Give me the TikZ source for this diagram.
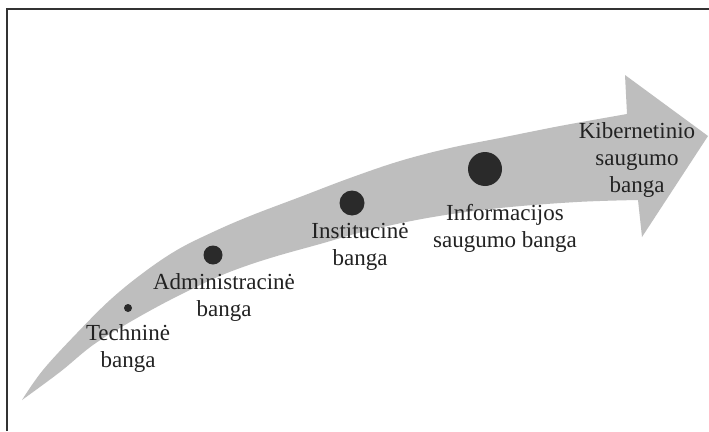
\documentclass[tikz,border=0pt]{standalone}
\usepackage{fontspec}
\setmainfont{Liberation Serif}
\definecolor{bandgray}{HTML}{BEBEBE}
\definecolor{dotgray}{HTML}{2A2A2A}
\definecolor{txtgray}{HTML}{222222}
\definecolor{framegray}{HTML}{333333}
\tikzset{
  lbl/.style={inner sep=0pt, align=center, text=txtgray, font=\fontsize{23}{27}\selectfont},
  wavedot/.style={circle, fill=dotgray, inner sep=0pt, minimum size=#1},
  frameline/.style={draw=framegray, line width=1.5pt}
}
\begin{document}
\begin{tikzpicture}[x=1pt,y=-1pt]
\useasboundingbox (0,0) rectangle (709,431);
\fill[white] (0,0) rectangle (709,431);
% frame (top and left)
\coordinate (fa) at (7,431);
\coordinate (fb) at (7,9);
\coordinate (fc) at (709,9);
\draw[frameline] (fa) -- (fb) -- (fc);
% curved arrow
\fill[bandgray]
  plot[smooth, tension=0.6] coordinates {(22,400) (43,370) (77,333) (110,300) (143,273) (177,250) (213,232) (250,216) (300,197) (350,178) (400,161) (450,148) (500,138) (560,126) (627,114)}
  -- (625,75) -- (708,136) -- (642,237) -- (638,200)
  -- plot[smooth, tension=0.6] coordinates {(638,200) (577,202) (500,208) (433,217) (370,230) (320,244) (277,256) (243,267) (213,279) (170,300) (130,322) (93,345) (60,372) (22,400)}
  -- cycle;
% dots
\node[wavedot=8pt]  (d1) at (128,308) {};
\node[wavedot=19pt] (d2) at (213,255) {};
\node[wavedot=25pt] (d3) at (352,203) {};
\node[wavedot=34pt] (d4) at (485,169) {};
% labels
\node[lbl] (t1) at (128,348) {Techninė\\banga};
\node[lbl] (t2) at (224,297) {Administracinė\\banga};
\node[lbl] (t3) at (360,247) {Institucinė\\banga};
\node[lbl] (t4) at (505,228) {Informacijos\\saugumo banga};
\node[lbl] (t5) at (637,160) {Kibernetinio\\saugumo\\banga};
\end{tikzpicture}
\end{document}
